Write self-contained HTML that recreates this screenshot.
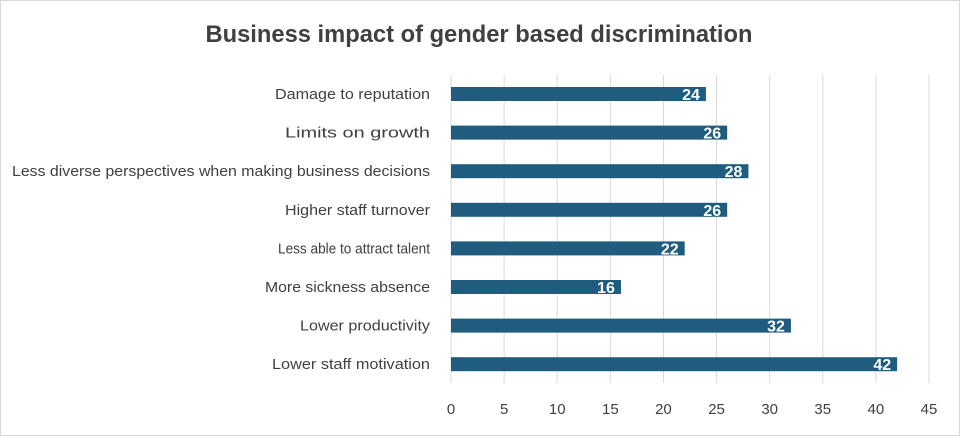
<!DOCTYPE html>
<html><head><meta charset="utf-8"><style>
body{margin:0;background:#fff;}
svg{display:block;font-family:"Liberation Sans",sans-serif;}
</style></head><body>
<svg id="chart" width="960" height="436">
<rect x="0.5" y="0.5" width="959" height="435" fill="#fff" stroke="#d9d9d9"/>
<text x="479" y="42" text-anchor="middle" font-size="24" font-weight="bold" fill="#404040" textLength="547" lengthAdjust="spacingAndGlyphs">Business impact of gender based discrimination</text>
<g id="grid"></g><g id="bars"></g><g id="labels"></g>
</svg>
<script>
const categories=["Damage to reputation","Limits on growth","Less diverse perspectives when making business decisions","Higher staff turnover","Less able to attract talent","More sickness absence","Lower productivity","Lower staff motivation"];
const values=[24,26,28,26,22,16,32,42];
const ticks=[0,5,10,15,20,25,30,35,40,45];
const NS="http://www.w3.org/2000/svg";
const x0=451,x1=929,xmax=45,top0=75,bot=383,first=94,step=38.6,bh=14;
const xs=v=>x0+(x1-x0)*v/xmax;
const ys=i=>first+i*step;
function mk(t,a,p){const e=document.createElementNS(NS,t);for(const k in a)e.setAttribute(k,a[k]);p.appendChild(e);return e;}
const g=document.getElementById('grid'),b=document.getElementById('bars'),l=document.getElementById('labels');
ticks.forEach(t=>{
 const ln=mk('line',{x1:xs(t),x2:xs(t),y1:top0,y2:bot,stroke:'#d9d9d9','stroke-width':1},g);
 
 
 const tx=mk('text',{x:xs(t),y:414,'text-anchor':'middle','font-size':15,fill:'#404040'},g);
 tx.textContent=t;
 
 
});
const labelWidths=[155,145,418,145,152,165,130,158];
categories.forEach((c,i)=>{
 const y=ys(i);
 const r=mk('rect',{x:x0,y:y-bh/2,width:xs(values[i])-x0,height:bh,fill:'#1f5c7e'},b);
 
 
 const v=mk('text',{x:xs(values[i])-6,y:y+6,'text-anchor':'end','font-size':16,'font-weight':'bold',fill:'#fff'},b);
 v.textContent=values[i];
 
 
 const t=mk('text',{x:430,y:y+5,'text-anchor':'end','font-size':15,fill:'#404040',textLength:labelWidths[i],lengthAdjust:'spacingAndGlyphs'},l);
 t.textContent=c;
 
 
});
</script>
</body></html>
